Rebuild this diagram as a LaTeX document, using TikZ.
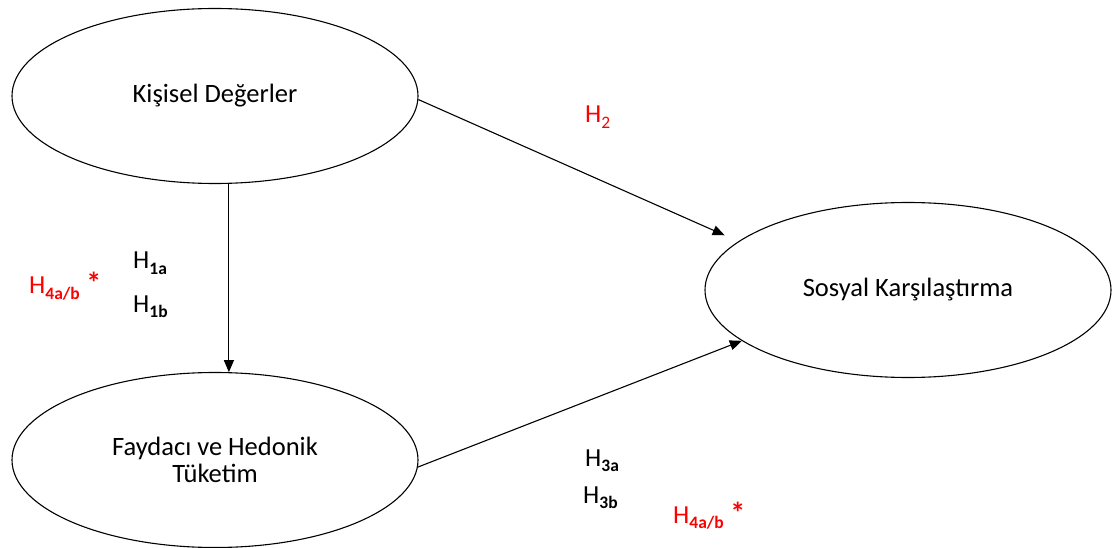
\documentclass[tikz,border=0pt]{standalone}
\usepackage{fontspec}
\setmainfont{Carlito}
\usetikzlibrary{shapes.geometric,arrows.meta}
% subscript of a hypothesis label
\newcommand{\hsub}[1]{\raisebox{-0.2em}{\fontsize{17.5}{17.5}\selectfont\bfseries #1}}
\newcommand{\hsubr}[1]{\raisebox{-0.2em}{\fontsize{17.5}{17.5}\selectfont #1}}
\newcommand{\hstar}{\hspace{0.25em}{\fontsize{30}{30}\selectfont\bfseries *}}
\begin{document}
\begin{tikzpicture}[x=1pt,y=-1pt,
  construct/.style={ellipse,draw,line width=1.1pt,minimum width=406pt,minimum height=175pt,
    inner sep=0pt,align=center,font=\fontsize{26.5}{27}\selectfont},
  path/.style={line width=1.1pt,-{Triangle[length=12pt,width=10pt]}},
  hyp/.style={anchor=base west,inner sep=0pt,font=\fontsize{26}{28}\selectfont},
  hypred/.style={hyp,text=red}]
\useasboundingbox (0,0) rectangle (1114,548);

% constructs
\node[construct] (kd) at (215,96) {Kişisel Değerler};
\node[construct] (fh) at (215,460) {Faydacı ve Hedonik\\Tüketim};
\node[construct] (sk) at (908,290) {Sosyal Karşılaştırma};

% hypothesised paths
\draw[path] (kd.-81) -- (fh.81);
\draw[path,shorten >=15pt] (kd.-1) -- (sk.164);
\draw[path] (fh.-2) -- (sk.197);

% hypothesis labels
\node[hypred] (h2) at (585,123) {H\hsubr{2}};
\node[hyp] (h1a) at (133,269) {H\hsub{1a}};
\node[hyp] (h1b) at (133,312) {H\hsub{1b}};
\node[hypred] (h4l) at (29,294) {H\hsub{4a/b}\hstar};
\node[hyp] (h3a) at (585,466) {H\hsub{3a}};
\node[hyp] (h3b) at (583,503) {H\hsub{3b}};
\node[hypred] (h4r) at (673,523) {H\hsub{4a/b}\hstar};
\end{tikzpicture}
\end{document}
